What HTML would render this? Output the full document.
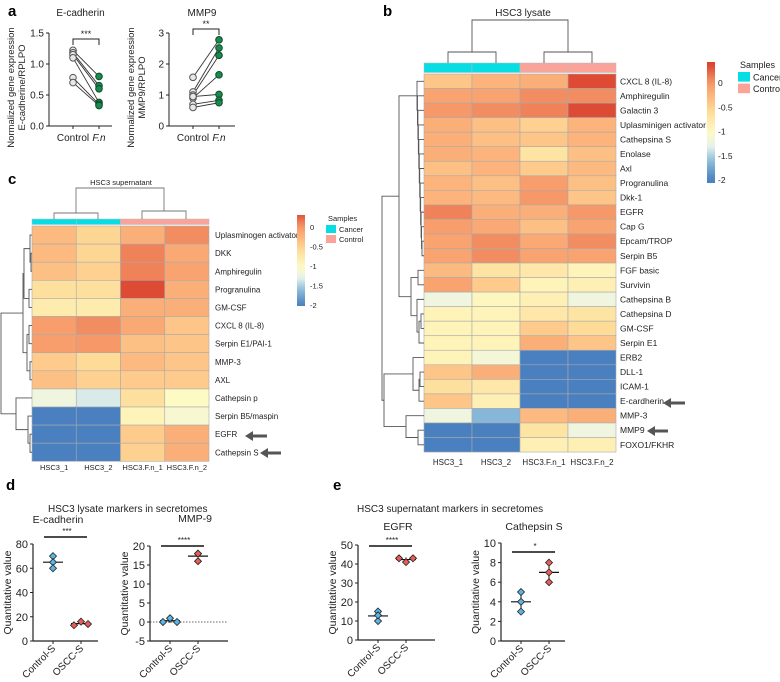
<!DOCTYPE html>
<html><head><meta charset="utf-8"><style>
body{margin:0;background:#fff}
svg{display:block;font-family:"Liberation Sans",Arial,sans-serif}
</style></head><body>
<svg id="fig" width="780" height="682" viewBox="0 0 780 682"></svg>
<script>
// ---------- data ----------
const aEcadControl=[1.22,1.18,1.15,1.10,0.78,0.70];
const aEcadFn=[0.80,0.65,0.60,0.38,0.35,0.33];
const aMmpControl=[1.57,1.10,1.00,0.90,0.95,0.70,0.60];
const aMmpFn=[2.78,2.52,2.28,1.65,1.02,0.83,0.75];

const bRows=["CXCL 8 (IL-8)","Amphiregulin","Galactin 3","Uplasminigen activator","Cathepsina S","Enolase","Axl","Progranulina","Dkk-1","EGFR","Cap G","Epcam/TROP","Serpin B5","FGF basic","Survivin","Cathepsina B","Cathepsina D","GM-CSF","Serpin E1","ERB2","DLL-1","ICAM-1","E-cardherin","MMP-3","MMP9","FOXO1/FKHR"];
const bVals=[[-0.4,-0.25,-0.2,0.35],[-0.1,-0.1,0.05,0.05],[0.0,0.05,0.1,0.35],[-0.2,-0.35,-0.5,-0.25],[-0.2,-0.35,-0.4,-0.25],[-0.2,-0.25,-0.7,-0.35],[-0.35,-0.25,-0.45,-0.3],[-0.25,-0.35,-0.05,-0.35],[-0.25,-0.3,0.0,-0.4],[0.1,-0.2,-0.2,0.0],[-0.05,-0.15,-0.35,-0.1],[-0.1,0.05,-0.15,0.05],[-0.1,0.05,-0.1,-0.1],[-0.3,-0.7,-0.75,-0.9],[-0.1,-0.45,-0.9,-0.85],[-1.2,-0.95,-0.85,-1.2],[-0.9,-0.9,-0.75,-0.7],[-0.9,-0.9,-0.45,-0.6],[-0.9,-0.9,-0.2,-0.4],[-0.9,-1.15,-2,-2],[-0.4,-0.2,-2,-2],[-0.65,-0.75,-2,-2],[-0.4,-0.85,-2,-2],[-1.2,-1.65,-0.3,-0.2],[-2,-2,-0.7,-1.2],[-2,-2,-0.85,-0.85]];
const colLabels=["HSC3_1","HSC3_2","HSC3.F.n_1","HSC3.F.n_2"];
const colGroups=["Cancer","Cancer","Control","Control"];

const cRows=["Uplasminogen activator","DKK","Amphiregulin","Progranulina","GM-CSF","CXCL 8 (IL-8)","Serpin E1/PAI-1","MMP-3","AXL","Cathepsin p","Serpin B5/maspin","EGFR","Cathepsin S"];
const cVals=[[-0.3,-0.55,-0.2,0.05],[-0.3,-0.55,0.1,-0.15],[-0.35,-0.5,0.1,-0.1],[-0.65,-0.65,0.35,-0.2],[-0.8,-0.8,-0.2,-0.2],[-0.05,0.05,-0.15,-0.4],[-0.05,0.0,-0.35,-0.4],[-0.45,-0.6,-0.3,-0.4],[-0.35,-0.5,-0.45,-0.45],[-1.2,-1.35,-0.65,-1.0],[-2,-2,-0.9,-1.1],[-2,-2,-0.45,-0.2],[-2,-2,-0.5,-0.2]];
const scaleTicks=[0,-0.5,-1,-1.5,-2];

const dEcadCtrl=[70,65,60], dEcadOscc=[13,16,14];
const dMmpCtrl=[0,1,0], dMmpOscc=[18,16,18];
const eEgfrCtrl=[15,10,13], eEgfrOscc=[43,41,43];
const eCatCtrl=[5,4,3], eCatOscc=[8,7,6];

// ---------- helpers ----------
const svg=document.getElementById('fig');
const NS='http://www.w3.org/2000/svg';
function el(tag,attrs,parent){const e=document.createElementNS(NS,tag);for(const k in attrs)e.setAttribute(k,attrs[k]);(parent||svg).appendChild(e);return e;}
function txt(x,y,s,size,opt){opt=opt||{};const t=el('text',{x:x,y:y,'font-size':size,fill:opt.fill||'#222','text-anchor':opt.anchor||'start'});if(opt.rot)t.setAttribute('transform','rotate('+opt.rot+' '+x+' '+y+')');if(opt.bold)t.setAttribute('font-weight','bold');if(opt.italic)t.setAttribute('font-style','italic');t.textContent=s;return t;}
function line(x1,y1,x2,y2,c,w,dash){const l=el('line',{x1:x1,y1:y1,x2:x2,y2:y2,stroke:c||'#222','stroke-width':w||1});if(dash)l.setAttribute('stroke-dasharray',dash);return l;}
const stops=[[-2,[74,128,191]],[-1.6,[143,191,219]],[-1.3,[232,243,236]],[-1,[254,250,196]],[-0.6,[254,220,152]],[-0.3,[253,186,128]],[0,[246,152,104]],[0.4,[217,64,44]]];
function cmap(v){if(v<=stops[0][0])return 'rgb('+stops[0][1]+')';for(let i=1;i<stops.length;i++){if(v<=stops[i][0]){const a=stops[i-1],b=stops[i],t=(v-a[0])/(b[0]-a[0]);return 'rgb('+a[1].map((c,j)=>Math.round(c+(b[1][j]-c)*t)).join(',')+')';}}return 'rgb('+stops[stops.length-1][1]+')';}
const grpCol={Cancer:'#08dde4',Control:'#f9a39b'};

[['a',8,16],['b',383,16],['c',8,184],['d',6,490],['e',333,490]].forEach(p=>{const t=txt(p[1],p[2],p[0],15,{bold:true,fill:'#000'});});

// ---------- panel a ----------
function pairedPlot(ax,x1,yTop,yBot,max,ticks,ctrl,fn,title,yl2,sig,sigY){
  const g=el('g',{});
  
  
  const ys=v=>yBot-(v/max)*(yBot-yTop);
  line(ax,yTop,ax,yBot);
  line(ax,yBot,x1,yBot);
  ticks.forEach(tk=>{line(ax-3,ys(tk.v),ax,ys(tk.v));txt(ax-5,ys(tk.v)+3.5,tk.l,10,{anchor:'end'});});
  const cx=ax+24,fx=ax+50;
  line(cx,yBot,cx,yBot+3);line(fx,yBot,fx,yBot+3);
  txt(cx,yBot+15,'Control',10,{anchor:'middle'});
  txt(fx,yBot+15,'F.n',10,{anchor:'middle',italic:true});
  txt((ax+x1)/2,16,title,10,{anchor:'middle'});
  txt(ax-35,(yTop+yBot)/2+8,'Normalized gene expression',9.5,{anchor:'middle',rot:-90});
  txt(ax-24,(yTop+yBot)/2+8,yl2,9.5,{anchor:'middle',rot:-90});
  el('path',{d:`M${cx} ${sigY+6} V${sigY} H${fx} V${sigY+6}`,fill:'none',stroke:'#222','stroke-width':1});
  txt((cx+fx)/2,sigY-2,sig,9,{anchor:'middle'});
  for(let i=0;i<ctrl.length;i++){line(cx,ys(ctrl[i]),fx,ys(fn[i]),'#333',0.9);}
  ctrl.forEach(v=>{const c=el('circle',{cx:cx,cy:ys(v),r:3.3,fill:'#e8e8e8',stroke:'#555','stroke-width':1});});
  fn.forEach(v=>{const c=el('circle',{cx:fx,cy:ys(v),r:3.3,fill:'#1a8a4e',stroke:'#0d4d2b','stroke-width':1});});
}
pairedPlot(49,112,33,126,1.5,[{v:1.5,l:'1.5'},{v:1.0,l:'1.0'},{v:0.5,l:'0.5'},{v:0,l:'0.0'}],aEcadControl,aEcadFn,'E-cadherin','E-cadherine/RPLPO','***',39);
pairedPlot(169,235,33,126,3,[{v:3,l:'3'},{v:2,l:'2'},{v:1,l:'1'},{v:0,l:'0'}],aMmpControl,aMmpFn,'MMP9','MMP9/RPLPO','**',29);

// ---------- heatmap helpers ----------
function heatmap(name,x0,y0,cw,rh,barTop,rows,vals,labelX,fs){
  const g=el('g',{});
  
  
  colGroups.forEach((gname,j)=>{const r=el('rect',{x:x0+j*cw,y:barTop,width:cw,height:y0-barTop-1.5,fill:grpCol[gname],stroke:'#bbb','stroke-width':0.5},g);});
  rows.forEach((rn,i)=>{
    vals[i].forEach((v,j)=>{const r=el('rect',{x:x0+j*cw,y:y0+i*rh,width:cw,height:rh,fill:cmap(v),stroke:'#aaa','stroke-width':0.6},g);});
    const t=txt(labelX,y0+i*rh+rh/2+3,rn,fs);
  });
}
function colorbar(x,yTop,yBot,pxPerUnit,yZero,labelX,fs){
  const id='grad'+x;
  const defs=el('defs',{});const lg=el('linearGradient',{id:id,x1:0,y1:0,x2:0,y2:1},defs);
  for(let k=0;k<=20;k++){const y=yTop+(yBot-yTop)*k/20;const v=(yZero-y)/pxPerUnit;el('stop',{offset:(k*5)+'%','stop-color':cmap(v)},lg);}
  const r=el('rect',{x:x,y:yTop,width:8,height:yBot-yTop,fill:'url(#'+id+')'});
  
  scaleTicks.forEach(t=>{txt(labelX,yZero-t*pxPerUnit+3,String(t),fs);});
}
function samplesLegend(x,y,fs,box){
  txt(x+2,y,'Samples',fs);
  const r1=el('rect',{x:x,y:y+4,width:box,height:box*0.8,fill:grpCol.Cancer});
  txt(x+box+3,y+4+box*0.7,'Cancer',fs);
  const r2=el('rect',{x:x,y:y+6+box*0.8,width:box,height:box*0.8,fill:grpCol.Control});
  txt(x+box+3,y+6+box*1.5,'Control',fs);
}
function arrow(x,y,len){el('path',{d:`M${x} ${y} l8 -5 v3.5 h${len-8} v3 h-${len-8} v3.5 z`,fill:'#555'});}
function dendro(node,leafY,leafX){
  if(typeof node==='number')return [leafX,leafY(node)];
  const a=dendro(node[0],leafY,leafX),b=dendro(node[1],leafY,leafX),h=node[2];
  el('path',{d:`M${a[0]} ${a[1]} H${h} V${b[1]} H${b[0]}`,fill:'none',stroke:'#555','stroke-width':0.9});
  return [h,(a[1]+b[1])/2];
}
function chain(ids,xmin,xmax){let n=[ids[ids.length-2],ids[ids.length-1],xmax];for(let i=ids.length-3;i>=0;i--){n=[ids[i],n,xmax-(xmax-xmin)*(ids.length-2-i)/(ids.length-2)];}return n;}

// ---------- panel b ----------
txt(523,16,'HSC3 lysate',10,{anchor:'middle'});
const bY0=74,bRH=14.54,bCW=48,bX0=424;
heatmap('heatmap-lysate',bX0,bY0,bCW,bRH,63,bRows,bVals,620,8.5);
colLabels.forEach((l,j)=>txt(bX0+bCW*j+bCW/2,465,l,8,{anchor:'middle'}));
el('path',{d:'M448 63 V52 H496 V63 M544 63 V52 H592 V63 M472 52 V20 H568 V52',fill:'none',stroke:'#555','stroke-width':0.9});
{const ly=i=>bY0+i*bRH+bRH/2;
 const T1=chain([0,1,2,3,4,5,6,7,8,9,10,11,12],417,422),T2=[[13,14,418],[15,[[16,17,421],18,419],417],411];
 const B1=[19,[[20,21,420],22,419],413],B2=[23,[24,25,418],406];
 dendro([[T1,T2,399],[B1,B2,384],382],ly,bX0);}
colorbar(707,62,183,48.5,83,718,8.5);
samplesLegend(738,68,9,12);
arrow(663,403,22);arrow(647,431,21);

// ---------- panel c ----------
txt(121,185,'HSC3 supernatant',7.5,{anchor:'middle'});
const cY0=226,cRH=18.1,cCW=44.25,cX0=32;
heatmap('heatmap-supernatant',cX0,cY0,cCW,cRH,219,cRows,cVals,215,8);
colLabels.forEach((l,j)=>txt(cX0+cCW*j+cCW/2,470,l,7.5,{anchor:'middle'}));
el('path',{d:'M54 219 V213 H98 V219 M142 219 V211 H186 V219 M76 213 V188 H164 V211',fill:'none',stroke:'#777','stroke-width':0.9});
{const ly=i=>cY0+i*cRH+cRH/2;
 const A=[[[0,[1,2,31],30],[3,4,29],24],[[5,6,29],[7,8,30],27],23];
 const B=[9,[10,[11,12,30],28],16];
 dendro([A,B,1],ly,cX0);}
colorbar(297,215,306,39,227,310,7.5);
samplesLegend(326,221,7.5,10);
arrow(245,436,22);arrow(260,453,21);

// ---------- dot plots d/e ----------
txt(48,512,'HSC3 lysate markers in secretomes',10);
txt(357,512,'HSC3 supernatant markers in secretomes',10);
function dotPlot(name,ax,x1,yTop,yBot,vmin,vmax,ticks,ctrl,oscc,title,titleX,titleY,sig,sigY,zeroLine){
  const g=el('g',{});
  const ys=v=>yBot-(v-vmin)/(vmax-vmin)*(yBot-yTop);
  line(ax,yTop,ax,yBot,'#222',1.2);line(ax,yBot,x1,yBot,'#222',1.2);
  ticks.forEach(t=>{line(ax-3,ys(t),ax,ys(t));txt(ax-5,ys(t)+4,String(t),11,{anchor:'end'});});
  const cx=ax+20,ox=ax+48;
  if(zeroLine)line(ax,ys(0),x1,ys(0),'#333',0.8,'1.5,1.5');
  line(cx,yBot,cx,yBot+3);line(ox,yBot,ox,yBot+3);
  txt(cx+3,yBot+8,'Control-S',10,{anchor:'end',rot:-45});
  txt(ox+3,yBot+8,'OSCC-S',10,{anchor:'end',rot:-45});
  txt(ax-22,(yTop+yBot)/2,'Quantitative value',10.5,{anchor:'middle',rot:-90});
  txt(titleX,titleY,title,10.5,{anchor:'middle'});
  line(cx-9,sigY,ox+6,sigY,'#111',1.5);
  txt((cx+ox)/2,sigY-3,sig,8,{anchor:'middle'});
  [[ctrl,cx,'#5ab4e6'],[oscc,ox,'#e85d57']].forEach(([arr,x,col])=>{
    const m=arr.reduce((s,v)=>s+v,0)/arr.length;
    const sd=Math.sqrt(arr.reduce((s,v)=>s+(v-m)*(v-m),0)/(arr.length-1));
    line(x,ys(m+sd),x,ys(m-sd),'#111',1);
    line(x-10,ys(m),x+10,ys(m),'#111',1.2);
    const spread=(Math.max(...arr)-Math.min(...arr))<(vmax-vmin)*0.08;
    arr.forEach((v,i)=>{const px=spread?x+(i-1)*7:x;const p=el('path',{d:`M${px} ${ys(v)-3.5} l3.5 3.5 l-3.5 3.5 l-3.5 -3.5z`,fill:col,stroke:'#222','stroke-width':0.8});});
  });
}
dotPlot('plot-ecadherin',33,98,544,641,0,80,[0,20,40,60,80],dEcadCtrl,dEcadOscc,'E-cadherin',58,523,'***',537,false);
dotPlot('plot-mmp9',150,228,546,641,-5,20,[-5,0,5,10,15,20],dMmpCtrl,dMmpOscc,'MMP-9',195,522,'****',546,true);
dotPlot('plot-egfr',358,435,545,640,0,50,[0,10,20,30,40,50],eEgfrCtrl,eEgfrOscc,'EGFR',398,530,'****',546,false);
dotPlot('plot-cathepsin-s',501,565,543,641,0,10,[0,2,4,6,8,10],eCatCtrl,eCatOscc,'Cathepsin S',534,530,'*',552,false);
</script>
</body></html>
